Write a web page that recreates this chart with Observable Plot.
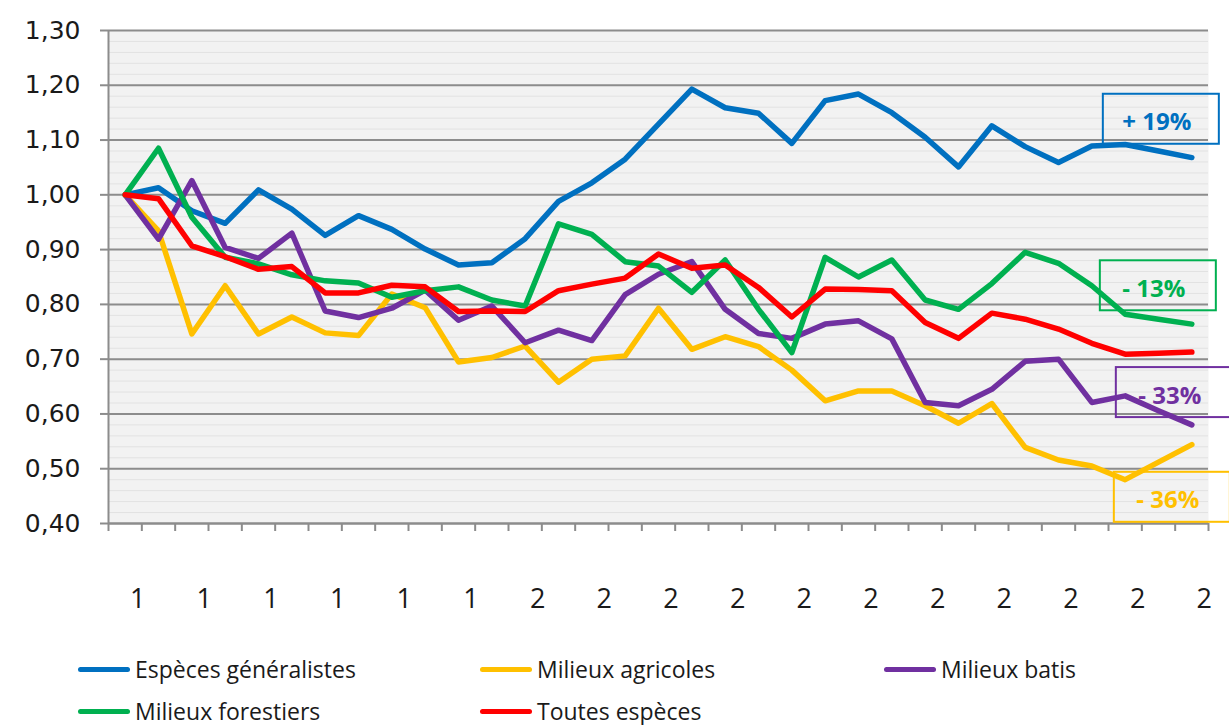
<!DOCTYPE html>
<html><head><meta charset="utf-8">
<script src="https://cdn.jsdelivr.net/npm/d3@7"></script>
<script src="https://cdn.jsdelivr.net/npm/@observablehq/plot@0.6"></script>
<style>
body{margin:0;background:#fff;width:1229px;height:725px;overflow:hidden;position:relative;font-family:"Open Sans",sans-serif}
#chart{position:absolute;left:0;top:0}
#legend{position:absolute;left:0;top:0;width:1229px;height:725px}
.item{position:absolute;display:flex;align-items:center;font-size:23px;line-height:26px;color:#1a1a1a;white-space:nowrap}
.sw{width:52px;height:5px;border-radius:3px;margin-right:5px}
</style></head><body>
<div id="chart"></div>
<div id="legend"></div>
<script>
const years = d3.range(1989, 2022);
const labelYears = [1989,1991,1993,1995,1997,1999,2001,2003,2005,2007,2009,2011,2013,2015,2017,2019,2021];
const tickLabels = ["1","1","1","1","1","1","2","2","2","2","2","2","2","2","2","2","2"];
const yTicks = [0.40,0.50,0.60,0.70,0.80,0.90,1.00,1.10,1.20,1.30];

const seriesNames = ["Espèces généralistes","Milieux agricoles","Milieux batis","Milieux forestiers","Toutes espèces"];
const seriesColors = ["#0070C0","#FFC000","#7030A0","#00B050","#FF0000"];

const generalistes = [1.000,1.013,0.971,0.948,1.009,0.974,0.926,0.962,0.937,0.901,0.872,0.876,0.920,0.988,1.022,1.065,1.129,1.193,1.159,1.149,1.094,1.172,1.184,1.150,1.105,1.051,1.126,1.088,1.059,1.089,1.092,1.080,1.068];
const agricoles    = [1.000,0.934,0.746,0.834,0.746,0.777,0.748,0.743,0.819,0.794,0.695,0.703,0.724,0.658,0.700,0.706,0.793,0.718,0.741,0.723,0.680,0.624,0.642,0.642,0.615,0.583,0.619,0.539,0.516,0.505,0.480,0.512,0.544];
const batis        = [1.000,0.919,1.026,0.904,0.884,0.930,0.788,0.776,0.793,0.826,0.771,0.797,0.730,0.753,0.734,0.818,0.855,0.878,0.791,0.747,0.738,0.764,0.770,0.737,0.621,0.615,0.645,0.696,0.700,0.621,0.633,0.606,0.580];
const forestiers   = [1.000,1.085,0.959,0.886,0.874,0.854,0.843,0.839,0.813,0.825,0.832,0.808,0.797,0.947,0.928,0.878,0.870,0.822,0.881,0.791,0.712,0.886,0.850,0.881,0.808,0.791,0.838,0.895,0.875,0.834,0.782,0.773,0.764];
const toutes       = [1.000,0.993,0.907,0.887,0.864,0.869,0.821,0.821,0.835,0.832,0.787,0.788,0.787,0.825,0.837,0.848,0.892,0.866,0.872,0.831,0.777,0.828,0.827,0.825,0.767,0.738,0.784,0.773,0.755,0.729,0.709,0.711,0.713];

const annotLabels = ["+ 19%","- 13%","- 33%","- 36%"];

const allSeries = [generalistes, agricoles, batis, forestiers, toutes];
const data = [];
allSeries.forEach((vals, s) => vals.forEach((v, i) => data.push({series: seriesNames[s], year: years[i], value: v})));

const boundaries = d3.range(0, years.length + 1).map(i => years[0] - 0.5 + i);
const minor = d3.range(20, 66).map(v => v / 50);
const fmt = d => d.toFixed(2).replace(".", ",");

const annots = [
  {s: 0, label: annotLabels[0], dx: -35, dy: -35},
  {s: 3, label: annotLabels[1], dx: -38, dy: -35},
  {s: 2, label: annotLabels[2], dx: -22, dy: -29},
  {s: 1, label: annotLabels[3], dx: -24, dy: 56}
];
const last = years.length - 1;

const chart = Plot.plot({
  width: 1229, height: 630,
  marginTop: 30, marginBottom: 107, marginLeft: 108, marginRight: 21,
  style: {background: "transparent", fontFamily: "Open Sans, sans-serif", overflow: "hidden"},
  x: {domain: [years[0] - 0.5, years[last] + 0.5]},
  y: {domain: [0.40, 1.30]},
  color: {domain: seriesNames, range: seriesColors},
  marks: [
    Plot.frame({fill: "#f2f2f2", stroke: null}),
    Plot.gridY(minor, {stroke: "#e2e2e2", strokeOpacity: 1, strokeWidth: 1}),
    Plot.gridY(yTicks, {stroke: "#8c8c8c", strokeOpacity: 1, strokeWidth: 2}),
    Plot.axisY({ticks: yTicks, tickSize: 8, tickPadding: 20, tickFormat: fmt, fontSize: 25, stroke: "#8c8c8c", strokeWidth: 2, fill: "#1a1a1a", label: null, fontFamily: "DejaVu Sans, sans-serif"}),
    Plot.ruleX([years[0] - 0.5], {stroke: "#8c8c8c", strokeWidth: 2}),
    Plot.ruleY([0.40], {stroke: "#8c8c8c", strokeWidth: 2}),
    Plot.axisX({ticks: boundaries, tickSize: 8, tickFormat: () => "", stroke: "#8c8c8c", strokeWidth: 2, label: null}),
    Plot.axisX({ticks: labelYears, tickSize: 0, tickPadding: 65, dx: 12.5, tickFormat: d => tickLabels[labelYears.indexOf(d)], fontSize: 27, fill: "#1a1a1a", label: null}),
    Plot.line(data, {x: "year", y: "value", z: "series", stroke: "series", strokeWidth: 5.5, strokeLinejoin: "round", strokeLinecap: "round"}),
    ...annots.map((a) => Plot.text([{year: years[last], value: allSeries[a.s][last]}], {
      x: "year", y: "value", text: () => a.label, dx: a.dx, dy: a.dy,
      fill: seriesColors[a.s], fontSize: 24, fontWeight: "bold", textAnchor: "middle"
    }))
  ]
});
document.getElementById("chart").append(chart);

// boxes around annotation texts
const svgNS = "http://www.w3.org/2000/svg";
chart.querySelectorAll("text").forEach(t => {
  const k = annotLabels.indexOf(t.textContent.trim());
  if (k < 0) return;
  const color = seriesColors[annots[k].s];
  const b = t.getBBox();
  const cx = b.x + b.width / 2, cy = b.y + b.height / 2;
  const r = document.createElementNS(svgNS, "rect");
  r.setAttribute("x", cx - 54);
  r.setAttribute("y", cy - 27);
  r.setAttribute("width", 116);
  r.setAttribute("height", 50);
  r.setAttribute("fill", "none");
  r.setAttribute("stroke", color);
  r.setAttribute("stroke-width", 2);
  const tr = t.getAttribute("transform");
  if (tr) r.setAttribute("transform", tr);
  t.parentNode.insertBefore(r, t);
});

// legend
const legendPos = [[78, 656], [480, 656], [884, 656], [78, 698], [480, 698]];
const legend = document.getElementById("legend");
seriesNames.forEach((n, i) => {
  const d = document.createElement("div");
  d.className = "item";
  d.style.left = legendPos[i][0] + "px";
  d.style.top = legendPos[i][1] + "px";
  const sw = document.createElement("span");
  sw.className = "sw";
  sw.style.background = seriesColors[i];
  const tx = document.createElement("span");
  tx.textContent = n;
  d.append(sw, tx);
  legend.append(d);
});
</script>
</body></html>
